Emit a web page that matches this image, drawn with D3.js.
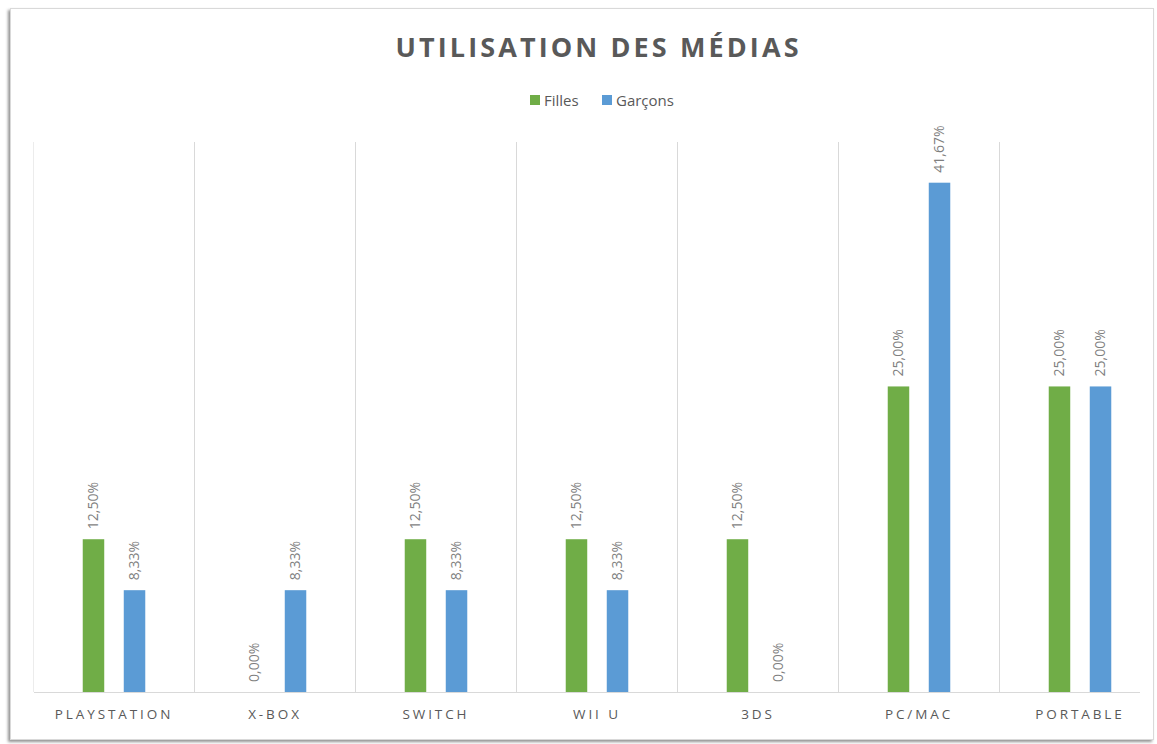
<!DOCTYPE html>
<html>
<head>
<meta charset="utf-8">
<script src="https://cdn.jsdelivr.net/npm/d3@7"></script>
<style>
  body { margin: 0; background: #fff; }
  text { font-family: "Open Sans", "DejaVu Sans", sans-serif; }
</style>
</head>
<body>
<div id="chart"></div>
<script>
// data
var categories = ["PLAYSTATION", "X-BOX", "SWITCH", "WII U", "3DS", "PC/MAC", "PORTABLE"];
var seriesNames = ["Filles", "Garçons"];
var filles = [0.125, 0, 0.125, 0.125, 0.125, 0.25, 0.25];
var garcons = [0.0833, 0.0833, 0.0833, 0.0833, 0, 0.4167, 0.25];
var colors = ["#70ad47", "#5b9bd5"];

var W = 1157, H = 744;
var margin = {top: 142, left: 33.5, bottom: 52},
    step = 161,
    plotRight = 1140,
    height = H - margin.top - margin.bottom;

var frFormat = d3.formatLocale({decimal: ",", thousands: " ", grouping: [3], currency: ["", "€"]}).format(".2%");

var svg = d3.select("#chart")
  .append("svg")
    .attr("width", W)
    .attr("height", H);

// frame with shadow
var defs = svg.append("defs");
defs.append("filter")
    .attr("id", "shadow")
    .attr("x", "-5%").attr("y", "-5%").attr("width", "110%").attr("height", "110%")
  .append("feDropShadow")
    .attr("dx", -2).attr("dy", 2)
    .attr("stdDeviation", 1.5)
    .attr("flood-color", "#777")
    .attr("flood-opacity", 0.8);
defs.append("clipPath")
    .attr("id", "plotclip")
  .append("rect")
    .attr("x", 0).attr("y", -60)
    .attr("width", plotRight - margin.left).attr("height", height + 120);

svg.append("rect")
    .attr("x", 10.5).attr("y", 8.5)
    .attr("width", 1143).attr("height", 731)
    .attr("fill", "#fff")
    .attr("stroke", "#d9d9d9")
    .attr("filter", "url(#shadow)");

// title
svg.append("text")
    .attr("x", 597)
    .attr("y", 57)
    .attr("text-anchor", "middle")
    .attr("textLength", 403)
    .attr("lengthAdjust", "spacing")
    .style("font-size", "27px")
    .style("font-weight", "bold")
    .style("fill", "#595959")
    .text("UTILISATION DES MÉDIAS");

// legend
var legend = svg.append("g").attr("transform", "translate(530,95)");
var legendX = [0, 72];
seriesNames.forEach(function(name, i) {
  var g = legend.append("g").attr("transform", "translate(" + legendX[i] + ",0)");
  g.append("rect")
      .attr("width", 10).attr("height", 10)
      .attr("fill", colors[i]);
  g.append("text")
      .attr("x", 14).attr("y", 10.5)
      .style("font-size", "15px")
      .style("fill", "#595959")
      .text(name);
});

var chart = svg.append("g")
    .attr("transform", "translate(" + margin.left + "," + margin.top + ")");

var x = d3.scaleBand()
    .domain(categories)
    .range([0, step * categories.length])
    .paddingInner(0)
    .paddingOuter(0);

var x1 = d3.scaleBand()
    .domain(seriesNames)
    .range([0, x.bandwidth()])
    .paddingInner(0.476)
    .paddingOuter(1.2);

var y = d3.scaleLinear()
    .domain([0, 0.45])
    .range([height, 0]);

var plot = chart.append("g").attr("clip-path", "url(#plotclip)");

// vertical gridlines at category boundaries
plot.selectAll(".grid")
  .data(categories)
  .enter()
  .append("line")
    .attr("x1", function(d) { return x(d); })
    .attr("x2", function(d) { return x(d); })
    .attr("y1", 0)
    .attr("y2", height)
    .attr("stroke", "#d9d9d9");

// x axis
var xAxis = plot.append("g")
    .attr("transform", "translate(0," + height + ")")
    .call(d3.axisBottom(x).tickSize(0).tickPadding(17));
xAxis.select(".domain").attr("stroke", "#d9d9d9");
xAxis.selectAll("text")
    .style("font-size", "13.5px")
    .style("letter-spacing", "2.9px")
    .style("fill", "#595959")
    .attr("dy", "0.71em");

var rows = categories.map(function(c, i) {
  return {cat: c, values: [filles[i], garcons[i]]};
});

var groups = plot.selectAll(".cat")
  .data(rows)
  .enter()
  .append("g")
    .attr("transform", function(d) { return "translate(" + x(d.cat) + ",0)"; });

var bars = groups.selectAll(".bar")
  .data(function(d) { return d.values.map(function(v, i) { return {name: seriesNames[i], value: v, i: i}; }); })
  .enter();

bars.append("rect")
    .attr("x", function(d) { return x1(d.name); })
    .attr("y", function(d) { return y(d.value); })
    .attr("width", x1.bandwidth())
    .attr("height", function(d) { return height - y(d.value); })
    .attr("fill", function(d) { return colors[d.i]; });

bars.append("text")
    .attr("transform", function(d) {
      return "translate(" + (x1(d.name) + x1.bandwidth() / 2) + "," + (y(d.value) - 10) + ") rotate(-90)";
    })
    .attr("dy", "0.35em")
    .style("font-size", "14px")
    .style("fill", "#7f7f7f")
    .text(function(d) { return frFormat(d.value); });
</script>
</body>
</html>
